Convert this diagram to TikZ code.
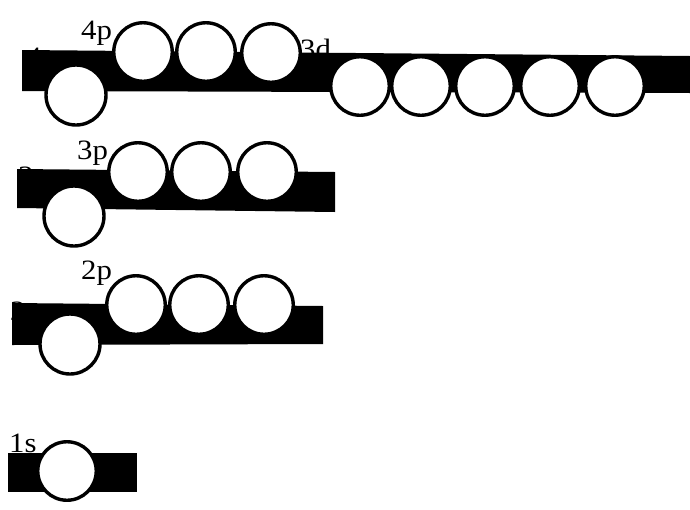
\documentclass[tikz,border=0pt]{standalone}
\usepackage{fontspec}
\setmainfont{Liberation Serif}
\begin{document}
\begin{tikzpicture}[x=1pt,y=-1pt,
  orb/.style={circle,draw=black,fill=white,line width=3.4pt,minimum size=58.5pt,inner sep=0pt},
  bigorb/.style={orb,minimum size=60pt},
  lbl/.style={anchor=base west,inner sep=0pt,xscale=1.1,transform shape,font=\fontsize{28}{30}\selectfont},
  bar/.style={fill=black}]
\useasboundingbox (0,0) rectangle (690,509);
% labels partly hidden behind the bars
\node[lbl] (l4s) at (26,66) {4s};
\node[lbl] (l3s) at (18,185) {3s};
\node[lbl] (l2s) at (10,320) {2s};
% bars
\fill[bar] (22,50) -- (690,56) -- (690,93) -- (22,91) -- cycle;
\fill[bar] (17,169) -- (335,172) -- (335,212) -- (17,208) -- cycle;
\fill[bar] (12,303) -- (323,306) -- (323,344) -- (12,345) -- cycle;
\fill[bar] (8,453) rectangle (137,492);
% row n=4
\node[bigorb] (s4) at (76,95) {};
\node[orb] (p4a) at (143,52) {};
\node[orb] (p4b) at (206,52) {};
\node[orb] (p4c) at (271,53) {};
\node[orb] (d3a) at (360,86) {};
\node[orb] (d3b) at (421,86) {};
\node[orb] (d3c) at (485,86) {};
\node[orb] (d3d) at (550,86) {};
\node[orb] (d3e) at (615,86) {};
% row n=3
\node[bigorb] (s3) at (74,216) {};
\node[orb] (p3a) at (138,172) {};
\node[orb] (p3b) at (201,172) {};
\node[orb] (p3c) at (267,172) {};
% row n=2
\node[bigorb] (s2) at (70,344) {};
\node[orb] (p2a) at (136,305) {};
\node[orb] (p2b) at (199,305) {};
\node[orb] (p2c) at (264,305) {};
% row n=1
\node[orb] (s1) at (67,471) {};
% visible labels
\node[lbl] (l4p) at (81,39) {4p};
\node[lbl] (l3d) at (300,58) {3d};
\node[lbl] (l3p) at (77,159) {3p};
\node[lbl] (l2p) at (81,279) {2p};
\node[lbl] (l1s) at (9,452) {1s};
\end{tikzpicture}
\end{document}
